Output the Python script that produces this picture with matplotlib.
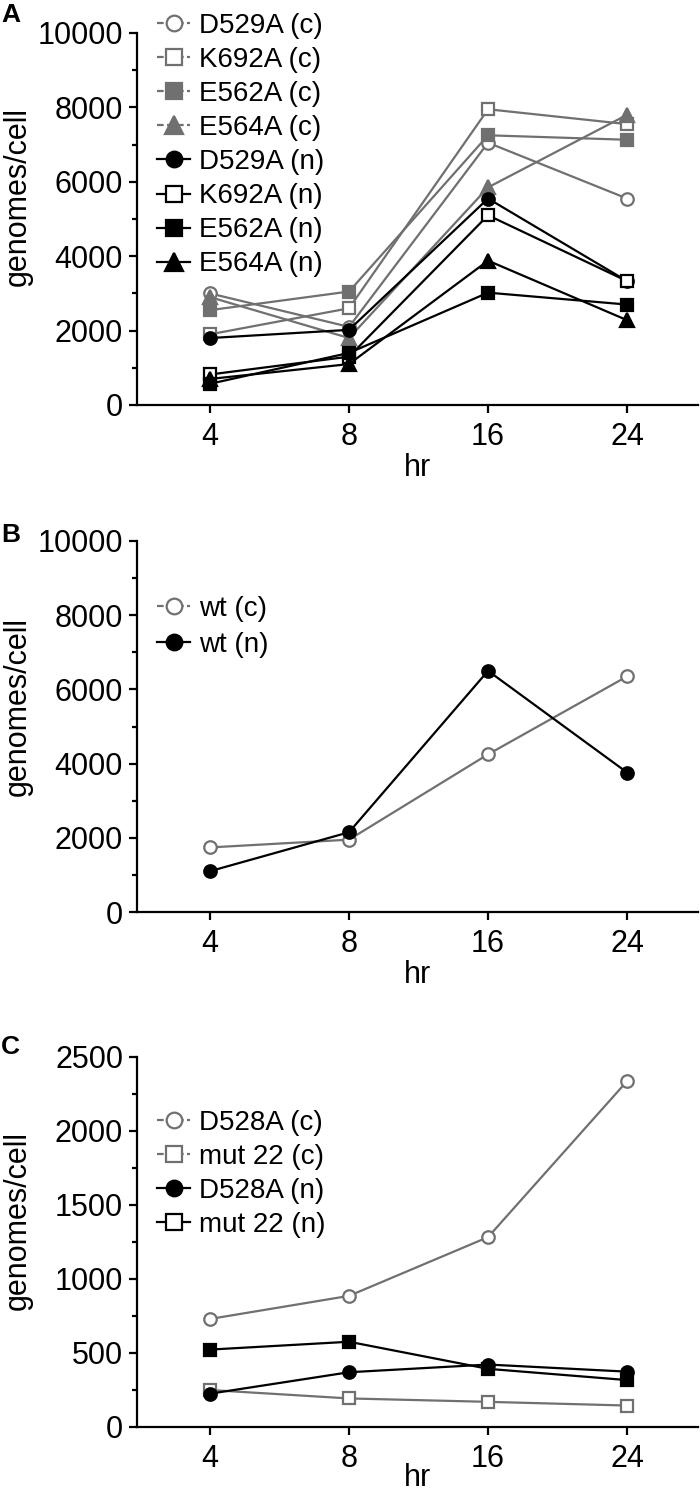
import matplotlib
matplotlib.use('Agg')
import matplotlib.pyplot as plt
from matplotlib.lines import Line2D
from matplotlib.ticker import MultipleLocator

plt.rcParams['font.family'] = ['Liberation Sans', 'DejaVu Sans']

hours = ['4', '8', '16', '24']

# Panel A
a_labels = ['D529A (c)', 'K692A (c)', 'E562A (c)', 'E564A (c)',
            'D529A (n)', 'K692A (n)', 'E562A (n)', 'E564A (n)']
a_D529A_c = [3000, 2100, 7050, 5550]
a_K692A_c = [1900, 2600, 7950, 7550]
a_E562A_c = [2550, 3050, 7250, 7130]
a_E564A_c = [2900, 1800, 5850, 7800]
a_D529A_n = [1800, 2020, 5550, 3330]
a_K692A_n = [820, 1300, 5100, 3330]
a_E562A_n = [570, 1400, 3020, 2700]
a_E564A_n = [700, 1100, 3880, 2280]

# Panel B
b_labels = ['wt (c)', 'wt (n)']
b_wt_c = [1740, 1950, 4250, 6350]
b_wt_n = [1100, 2150, 6500, 3760]

# Panel C
c_labels = ['D528A (c)', 'mut 22 (c)', 'D528A (n)', 'mut 22 (n)']
c_D528A_c = [730, 886, 1283, 2337]
c_mut22_c = [250, 193, 170, 145]
c_D528A_n = [225, 370, 422, 374]
c_mut22_n = [523, 576, 393, 317]

GRAY = '#707070'
BLACK = '#000000'

W, H = 700, 1495
fig = plt.figure(figsize=(W / 100, H / 100), dpi=100)


def axes_px(left, right, top, bottom):
    return fig.add_axes([left / W, 1 - bottom / H, (right - left) / W, (bottom - top) / H])


def style_axes(ax, ymax, major, minor, xlabelpad):
    ax.set_xlim(-0.525, 3.51)
    ax.set_ylim(0, ymax)
    ax.set_xticks(range(len(hours)))
    ax.set_xticklabels(hours)
    ax.yaxis.set_major_locator(MultipleLocator(major))
    ax.yaxis.set_minor_locator(MultipleLocator(minor))
    for s in ['top', 'right']:
        ax.spines[s].set_visible(False)
    for s in ['left', 'bottom']:
        ax.spines[s].set_linewidth(1.6)
    ax.tick_params(axis='both', which='major', direction='out', length=6, width=1.6,
                   labelsize=22)
    ax.tick_params(axis='x', which='major', pad=6)
    ax.tick_params(axis='y', which='major', pad=4)
    ax.tick_params(axis='y', which='minor', direction='out', length=3.5, width=1.6)
    ax.tick_params(axis='x', which='minor', length=0)
    ax.set_xlabel('hr', fontsize=22, labelpad=xlabelpad)
    ax.patch.set_alpha(0)


def draw(ax, values, color, marker, filled, ms):
    x = list(range(len(values)))
    ax.plot(x, values, color=color, lw=1.6, marker=marker, ms=ms,
            mfc=color if filled else 'white', mec=color, mew=1.6, clip_on=False)


def handle(color, marker, filled, ms, dashed):
    return Line2D([], [], color=color, lw=1.6, ls=(0, (3, 1.5)) if dashed else '-',
                  marker=marker, ms=ms, mfc=color if filled else 'white', mec=color, mew=1.6)


def legend(ax, handles, labels, x_px, top_px, spacing):
    ax.legend(handles, labels, loc='upper left', bbox_to_anchor=(x_px / W, 1 - top_px / H),
              bbox_transform=fig.transFigure, frameon=False, fontsize=20,
              handlelength=1.2, handletextpad=0.3, labelspacing=spacing,
              borderpad=0, borderaxespad=0)


# ---------- Panel A ----------
axA = axes_px(137, 698, 33, 405)
style_axes(axA, 10000, 2000, 1000, 1)
a_series = [a_D529A_c, a_K692A_c, a_E562A_c, a_E564A_c,
            a_D529A_n, a_K692A_n, a_E562A_n, a_E564A_n]
a_styles = [(GRAY, 'o', False, 9), (GRAY, 's', False, 9), (GRAY, 's', True, 9), (GRAY, '^', True, 10),
            (BLACK, 'o', True, 9), (BLACK, 's', False, 9), (BLACK, 's', True, 9), (BLACK, '^', True, 10)]
for vals, st in zip(a_series, a_styles):
    draw(axA, vals, *st)
a_handles = [handle(c, m, f, ms * 1.25, c == GRAY) for (c, m, f, ms) in a_styles]
legend(axA, a_handles, a_labels, 157, 13, 0.29)

# ---------- Panel B ----------
axB = axes_px(137, 698, 541, 912)
style_axes(axB, 10000, 2000, 1000, 1)
b_series = [b_wt_c, b_wt_n]
b_styles = [(GRAY, 'o', False, 9), (BLACK, 'o', True, 9)]
for vals, st in zip(b_series, b_styles):
    draw(axB, vals, *st)
b_handles = [handle(c, m, f, ms * 1.25, c == GRAY) for (c, m, f, ms) in b_styles]
legend(axB, b_handles, b_labels, 157, 596, 0.35)

# ---------- Panel C ----------
axC = axes_px(137, 698, 1057, 1427)
style_axes(axC, 2500, 500, 250, -8)
c_series = [c_D528A_c, c_mut22_c, c_D528A_n, c_mut22_n]
c_styles = [(GRAY, 'o', False, 9), (GRAY, 's', False, 9), (BLACK, 'o', True, 9), (BLACK, 's', True, 9)]
for vals, st in zip(c_series, c_styles):
    draw(axC, vals, *st)
c_leg_styles = [(GRAY, 'o', False, 9), (GRAY, 's', False, 9), (BLACK, 'o', True, 9), (BLACK, 's', False, 9)]
c_handles = [handle(c, m, f, ms * 1.25, c == GRAY) for (c, m, f, ms) in c_leg_styles]
legend(axC, c_handles, c_labels, 157, 1110, 0.29)

# y labels and panel letters
for yc in [196, 707, 1221]:
    fig.text(18 / W, 1 - yc / H, 'genomes/cell', rotation=90, ha='center', va='center', fontsize=22)
for letter, yb in [('A', 22), ('B', 542), ('C', 1054)]:
    fig.text(1 / W, 1 - yb / H, letter, ha='left', va='baseline', fontsize=19, fontweight='bold')

fig.savefig('out.png', dpi=100)
